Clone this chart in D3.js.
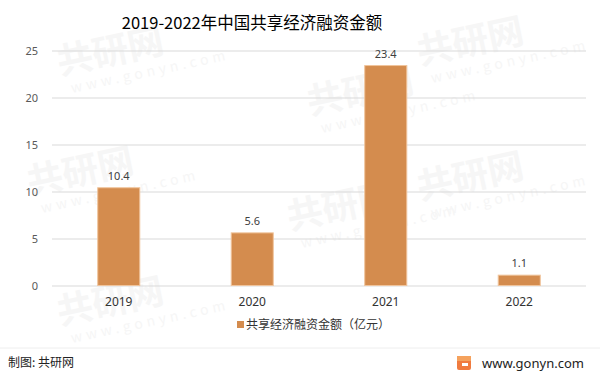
<!DOCTYPE html>
<html>
<head>
<meta charset="utf-8">
<script src="https://cdn.jsdelivr.net/npm/d3@7"></script>
<style>
  body { margin: 0; background: #fff; }
  svg { display: block; font-family: "Noto Sans CJK SC", "Microsoft YaHei", sans-serif; }
</style>
</head>
<body>
<div id="chart"></div>
<script>
// data
var years = ["2019", "2020", "2021", "2022"];
var amounts = [10.4, 5.6, 23.4, 1.1];
var yTicks = [0, 5, 10, 15, 20, 25];
var seriesName = "共享经济融资金额（亿元）";

var width = 600, height = 374;
var margin = { top: 50.5, right: 14, bottom: 88.5, left: 52 };

var svg = d3.select("#chart")
    .append("svg")
    .attr("width", width)
    .attr("height", height);

// faint watermarks in the background
var marks = [[60, 75], [310, 115], [420, 65], [30, 195], [290, 230], [420, 200], [60, 325]];
var wm = svg.append("g").attr("fill", "#f6f6f6");
marks.forEach(function (p) {
    var g = wm.append("g").attr("transform", "translate(" + p[0] + "," + p[1] + ") rotate(-12)");
    g.append("text").attr("x", 0).attr("y", 0)
        .style("font-size", "36px").style("font-weight", "bold")
        .text("共研网");
    g.append("text").attr("x", 8).attr("y", 20)
        .style("font-size", "14px").style("letter-spacing", "4px")
        .text("www.gonyn.com");
});

// title
svg.append("text")
    .attr("x", 252)
    .attr("y", 29)
    .attr("text-anchor", "middle")
    .style("font-size", "16.5px")
    .style("fill", "#000")
    .text("2019-2022年中国共享经济融资金额");

var x = d3.scaleBand()
    .domain(years)
    .range([margin.left, width - margin.right])
    .paddingInner(0.685)
    .paddingOuter(0.3425);

var y = d3.scaleLinear()
    .domain([0, 25])
    .range([height - margin.bottom, margin.top]);

// gridlines + y labels
var yAxis = svg.append("g")
    .attr("transform", "translate(" + margin.left + ",0)")
    .call(d3.axisLeft(y).tickValues(yTicks).tickSize(-(width - margin.left - margin.right)).tickPadding(14));
yAxis.select(".domain").remove();
yAxis.selectAll(".tick line").attr("stroke", "#d9d9d9");
yAxis.selectAll(".tick text")
    .style("font-size", "11px")
    .style("fill", "#595959")
    .style("font-family", "'Noto Sans', sans-serif");

// x labels
var xAxis = svg.append("g")
    .attr("transform", "translate(0," + (height - margin.bottom) + ")")
    .call(d3.axisBottom(x).tickSize(0).tickPadding(12));
xAxis.select(".domain").remove();
xAxis.selectAll(".tick text")
    .style("font-size", "12px")
    .style("fill", "#333")
    .style("font-family", "'Noto Sans', sans-serif");

// bars
svg.selectAll(".bar")
    .data(amounts)
    .enter()
    .append("rect")
    .attr("class", "bar")
    .attr("x", function (d, i) { return x(years[i]); })
    .attr("y", function (d) { return y(d); })
    .attr("width", x.bandwidth())
    .attr("height", function (d) { return y(0) - y(d); })
    .style("fill", "#d48c4e")
    .style("stroke", "#f0c49c")
    .style("stroke-width", 1);

// value labels
svg.selectAll(".val")
    .data(amounts)
    .enter()
    .append("text")
    .attr("class", "val")
    .attr("x", function (d, i) { return x(years[i]) + x.bandwidth() / 2; })
    .attr("y", function (d) { return y(d) - 8; })
    .attr("text-anchor", "middle")
    .style("font-size", "11px")
    .style("fill", "#404040")
    .style("font-family", "'Noto Sans', sans-serif")
    .text(function (d) { return d.toFixed(1); });

// legend
svg.append("rect")
    .attr("x", 237).attr("y", 321)
    .attr("width", 7).attr("height", 7)
    .style("fill", "#d48c4e");
svg.append("text")
    .attr("x", 246).attr("y", 329)
    .style("font-size", "12px")
    .style("fill", "#333")
    .text(seriesName);

// footer
svg.append("line")
    .attr("x1", 0).attr("x2", width)
    .attr("y1", 348).attr("y2", 348)
    .attr("stroke", "#eeeeee");
svg.append("text")
    .attr("x", 8).attr("y", 367)
    .style("font-size", "12px")
    .style("fill", "#222")
    .text("制图: 共研网");

var logo = svg.append("g").attr("transform", "translate(457,356)");
logo.append("rect").attr("width", 14).attr("height", 14).attr("rx", 2).style("fill", "#f07b3f");
logo.append("rect").attr("x", 0).attr("y", 0).attr("width", 14).attr("height", 5).style("fill", "#f5a25d");
logo.append("rect").attr("x", 5).attr("y", 7).attr("width", 6).attr("height", 3).style("fill", "#fff");
svg.append("text")
    .attr("x", 482).attr("y", 368)
    .style("font-size", "13px")
    .style("fill", "#222")
    .style("font-family", "'Noto Sans', sans-serif")
    .text("www.gonyn.com");
</script>
</body>
</html>
